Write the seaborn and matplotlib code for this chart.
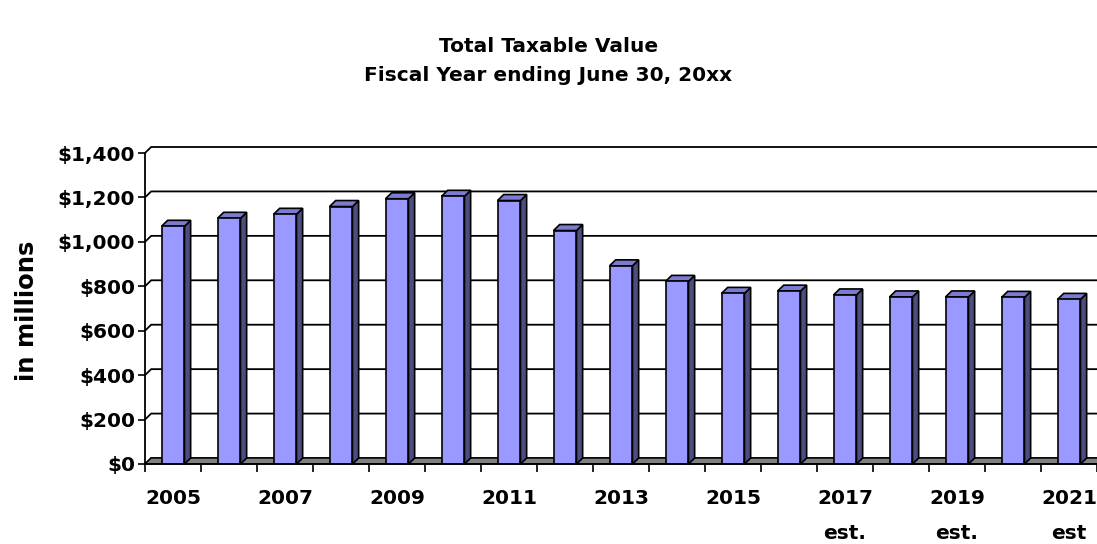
import matplotlib
matplotlib.use("Agg")
import matplotlib.pyplot as plt
from matplotlib.patches import Polygon
import numpy as np
import pandas as pd
import seaborn as sns

# Fiscal years and total taxable value ($ millions)
years = ["2005", "2006", "2007", "2008", "2009", "2010", "2011", "2012", "2013",
         "2014", "2015", "2016", "2017", "2018", "2019", "2020", "2021"]
values = [1070, 1106, 1124, 1159, 1194, 1205, 1186, 1051, 892,
          822, 768, 778, 761, 752, 752, 750, 741]
tick_labels = ["2005", "", "2007", "", "2009", "", "2011", "", "2013",
               "", "2015", "", "2017\nest.", "", "2019\nest.", "", "2021\nest"]
y_ticks = [0, 200, 400, 600, 800, 1000, 1200, 1400]
y_tick_labels = ["$0", "$200", "$400", "$600", "$800", "$1,000", "$1,200", "$1,400"]

FRONT = "#9999FF"
SIDE = "#4D4D80"
TOP = "#7B7BD0"
FLOOR = "#808080"
FONT = ["DejaVu Sans"]

sns.set_theme(style="white")
plt.rcParams["font.family"] = FONT
plt.rcParams["font.weight"] = "bold"
plt.rcParams["text.color"] = "black"
plt.rcParams["xtick.labelcolor"] = "black"
plt.rcParams["ytick.labelcolor"] = "black"

fig = plt.figure(figsize=(10.97, 5.44), dpi=100)
ax = fig.add_axes([145 / 1097, 1 - 464 / 544, 1 - 145 / 1097, (464 - 153) / 544])

df = pd.DataFrame({"year": years, "value": values})
bar_w = 0.41
sns.barplot(data=df, x="year", y="value", color=FRONT, saturation=1,
            width=bar_w, edgecolor="black", linewidth=1.2, ax=ax, zorder=4)

ax.set_xlim(-0.5, len(years) - 0.5)
ax.set_ylim(0, 1400)

# depth offset of the pseudo-3D walls and bars (in data units)
dx, dy = 0.11, 27

# back-wall gridlines with the short diagonal back to the value axis
for v in y_ticks:
    ax.plot([-0.5, -0.5 + dx, len(years) - 0.5 + dx], [v, v + dy, v + dy],
            color="black", lw=1.3, zorder=1, clip_on=False)

# grey floor
floor = Polygon([(-0.5, 0), (len(years) - 0.5, 0), (len(years) - 0.5 + dx, dy),
                 (-0.5 + dx, dy)], closed=True, facecolor=FLOOR,
                edgecolor="black", lw=1.0, zorder=2, clip_on=False)
ax.add_patch(floor)

# side and top faces for each column
for patch in ax.patches[:]:
    if patch is floor:
        continue
    x0 = patch.get_x()
    w = patch.get_width()
    h = patch.get_height()
    x1 = x0 + w
    side = Polygon([(x1, 0), (x1 + dx, dy), (x1 + dx, h + dy), (x1, h)],
                   closed=True, facecolor=SIDE, edgecolor="black", lw=1.2,
                   zorder=3, clip_on=False)
    top = Polygon([(x0, h), (x1, h), (x1 + dx, h + dy), (x0 + dx, h + dy)],
                  closed=True, facecolor=TOP, edgecolor="black", lw=1.2,
                  zorder=3, clip_on=False)
    ax.add_patch(side)
    ax.add_patch(top)

for s in ["top", "right", "bottom"]:
    ax.spines[s].set_visible(False)
ax.spines["left"].set_color("black")
ax.spines["left"].set_linewidth(1.3)
ax.axhline(0, color="black", lw=1.3, zorder=5, clip_on=False)

ax.set_yticks(y_ticks)
ax.set_yticklabels(y_tick_labels, fontsize=14.5, fontweight="bold")
ax.tick_params(axis="y", length=5, width=1.2, color="black", pad=2, left=True)

ax.set_xticks(range(len(years)))
ax.set_xticklabels(tick_labels, fontsize=14.5, fontweight="bold", linespacing=2.05)
ax.set_xticks(np.arange(-0.5, len(years), 1.0), minor=True)
ax.tick_params(axis="x", which="major", length=0, pad=18, bottom=True)
ax.tick_params(axis="x", which="minor", length=6, width=1.2, color="black", bottom=True)
ax.set_xlabel("")
ax.set_ylabel("")
ax.grid(False)

fig.text(27 / 1097, 1 - 311 / 544, "in millions", rotation=90, ha="center",
         va="center", fontsize=17.5, fontweight="bold")
fig.text(0.5, 1 - 46 / 544, "Total Taxable Value", ha="center", va="center",
         fontsize=14.5, fontweight="bold")
fig.text(0.5, 1 - 75 / 544, "Fiscal Year ending June 30, 20xx", ha="center",
         va="center", fontsize=14.5, fontweight="bold")

fig.savefig("out.png", dpi=100, facecolor="white")
